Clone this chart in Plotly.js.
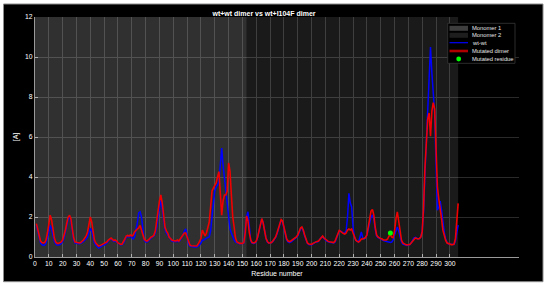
<!DOCTYPE html>
<html><head><meta charset="utf-8">
<script src="https://cdn.plot.ly/plotly-3.0.1.min.js"></script>
<style>html,body{margin:0;padding:0;background:#fff}#chart{width:550px;height:288px}</style>
</head><body><div id="chart"></div>
<script>
// ---- data ----
const wtwt = [
1.6,1.3,0.95,0.7,0.62,0.58,0.6,0.7,0.95,1.35,
1.58,1.4,1.05,0.8,0.65,0.6,0.6,0.62,0.68,0.78,
0.95,1.25,1.6,1.9,2.0,1.8,1.3,0.85,0.7,0.68,
0.68,0.66,0.68,0.72,0.78,0.85,0.9,1.0,1.2,1.43,
1.3,0.95,0.72,0.6,0.52,0.45,0.48,0.55,0.58,0.6,
0.65,0.7,0.8,0.88,0.9,0.82,0.78,0.8,0.75,0.66,
0.62,0.6,0.62,0.7,0.85,1.0,1.02,1.0,1.05,0.95,
0.9,1.0,1.3,1.7,2.2,2.26,2.0,1.3,0.85,0.75,
0.75,0.8,0.9,0.95,1.0,1.05,1.2,1.5,2.0,2.5,
2.85,2.4,1.8,1.4,1.2,1.1,0.95,0.85,0.8,0.78,
0.78,0.78,0.8,0.78,0.85,0.95,1.1,1.3,1.4,1.1,
0.65,0.55,0.52,0.52,0.5,0.5,0.5,0.55,0.6,0.7,
0.84,0.85,0.9,0.95,0.98,1.0,1.3,2.0,2.8,3.3,
3.5,3.6,3.77,4.5,5.45,4.6,3.9,3.5,2.6,1.9,
1.4,1.2,1.0,0.85,0.75,0.7,0.68,0.66,0.66,0.67,
0.7,1.3,2.0,2.26,1.3,0.8,0.7,0.68,0.7,0.78,
0.98,1.3,1.7,1.9,1.72,1.3,0.95,0.75,0.7,0.7,
0.72,0.78,0.88,0.98,1.15,1.4,1.65,1.85,1.75,1.45,
1.05,0.85,0.75,0.72,0.75,0.8,0.85,0.92,0.98,1.05,
1.2,1.4,1.45,1.3,1.05,0.8,0.68,0.62,0.6,0.6,
0.65,0.7,0.75,0.75,0.78,0.88,0.98,1.0,0.9,0.85,
0.8,0.75,0.73,0.72,0.7,0.7,0.75,0.95,1.15,1.3,
1.3,1.25,1.2,1.2,1.3,2.0,3.18,2.7,2.5,1.5,
1.0,0.84,0.78,0.75,1.0,1.25,0.95,0.9,0.97,1.1,
1.4,1.8,2.0,2.1,1.9,1.4,1.05,0.98,0.93,0.9,
0.85,0.82,0.8,0.78,0.75,0.75,0.73,0.75,0.85,1.1,
1.35,1.5,1.3,0.95,0.75,0.65,0.62,0.6,0.58,0.6,
0.62,0.7,0.8,0.95,0.98,0.93,0.9,0.92,1.0,1.3,
2.3,4.2,5.8,7.0,9.0,10.5,9.2,8.0,7.2,4.7,
2.34,2.5,2.8,2.34,1.6,1.2,0.9,0.72,0.65,0.64,
0.63,0.62,0.63,0.8,1.3,1.6
];
const mutatedDimer = [
1.67,1.4,1.05,0.8,0.72,0.7,0.72,0.85,1.2,1.75,
2.09,1.85,1.35,0.95,0.75,0.68,0.68,0.7,0.75,0.85,
1.05,1.35,1.7,2.0,2.09,1.9,1.4,0.95,0.75,0.72,
0.7,0.7,0.72,0.78,0.85,0.95,1.05,1.25,1.6,2.0,
1.75,1.2,0.85,0.7,0.62,0.55,0.57,0.6,0.62,0.65,
0.7,0.75,0.85,0.92,0.95,0.88,0.82,0.85,0.8,0.7,
0.65,0.63,0.65,0.75,0.9,1.05,1.08,1.05,1.1,1.05,
1.1,1.25,1.35,1.4,1.45,1.58,1.35,1.05,0.9,0.82,
0.8,0.85,0.95,1.0,1.02,1.1,1.3,1.7,2.3,2.8,
3.1,2.7,2.0,1.5,1.3,1.2,1.0,0.9,0.85,0.82,
0.82,0.8,0.85,0.8,0.9,1.0,1.1,1.2,1.2,1.0,
0.7,0.6,0.56,0.56,0.55,0.53,0.55,0.65,0.8,0.92,
1.34,1.2,1.05,1.2,1.45,1.75,2.5,3.3,3.45,3.6,
3.7,4.0,4.27,3.2,2.09,2.8,3.1,3.1,3.3,4.7,
4.3,3.1,2.0,1.5,0.95,0.75,0.7,0.68,0.68,0.68,
0.72,1.2,2.05,1.8,1.2,0.85,0.72,0.7,0.72,0.8,
1.0,1.35,1.75,1.92,1.7,1.3,0.95,0.78,0.7,0.7,
0.72,0.8,0.9,1.0,1.2,1.45,1.7,1.87,1.8,1.5,
1.1,0.9,0.8,0.77,0.8,0.85,0.9,0.95,1.0,1.1,
1.25,1.45,1.5,1.35,1.1,0.85,0.7,0.65,0.62,0.63,
0.68,0.72,0.77,0.78,0.8,0.9,1.0,1.05,0.95,0.88,
0.82,0.78,0.76,0.75,0.72,0.72,0.8,1.0,1.2,1.33,
1.28,1.2,1.17,1.15,1.2,1.35,1.4,1.35,1.4,1.2,
0.95,0.84,0.78,0.75,0.8,0.9,0.9,0.95,0.97,1.1,
1.5,2.0,2.3,2.38,2.1,1.5,1.1,1.0,0.95,0.92,
0.9,0.85,0.85,0.85,0.9,1.05,1.1,1.0,0.97,1.3,
1.9,2.26,1.8,1.2,0.85,0.7,0.65,0.62,0.6,0.6,
0.62,0.7,0.8,0.9,0.95,0.92,0.9,0.92,1.0,1.26,
2.5,4.5,6.0,6.9,7.2,6.04,7.3,7.72,7.4,5.5,
3.5,2.9,2.5,1.9,1.33,1.0,0.83,0.7,0.66,0.64,
0.62,0.62,0.64,0.9,1.8,2.68
];
const residues = wtwt.map((_, i) => i + 1);
const mutatedResidueX = [257];
const mutatedResidueY = [1.2];
const monomerNames = ['Monomer 1', 'Monomer 2'];
const monomerStart = [0, 153];
const monomerEnd = [153, 306];
const yTop = 12;
const xTickVals = [0,10,20,30,40,50,60,70,80,90,100,110,120,130,140,150,160,170,180,190,200,210,220,230,240,250,260,270,280,290,300];
const yTickVals = [0,2,4,6,8,10,12];
const legendLabels = ['Monomer 1', 'Monomer 2', 'wt-wt', 'Mutated dimer', 'Mutated residue'];
const titleText = 'wt+wt dimer vs wt+I104F dimer';

// ---- layout geometry ----
const W = 550, H = 288, L = 35, R = 31, T = 17, B = 31;
const pw = W - L - R, ph = H - T - B;
const PX = x => (x - L) / pw;
const PY = y => (H - B - y) / ph;
const FONT = 'Liberation Sans, Arial, Helvetica, sans-serif';
const monoFill = ['rgba(255,255,255,0.19)', 'rgba(255,255,255,0.10)'];

const traces = [];
monomerNames.forEach((n, i) => {
  traces.push({
    type: 'scatter', mode: 'lines', name: n,
    x: [monomerStart[i], monomerEnd[i], monomerEnd[i], monomerStart[i], monomerStart[i]],
    y: [0, 0, yTop, yTop, 0],
    fill: 'toself', fillcolor: monoFill[i], line: {width: 0},
    hoverinfo: 'skip', showlegend: false
  });
});
traces.push({type: 'scatter', mode: 'lines', name: 'wt-wt', x: residues, y: wtwt,
  line: {color: '#0000ff', width: 1.5}, showlegend: false});
traces.push({type: 'scatter', mode: 'lines', name: 'Mutated dimer', x: residues, y: mutatedDimer,
  line: {color: '#f00000', width: 1.6}, showlegend: false});
traces.push({type: 'scatter', mode: 'markers', name: 'Mutated residue', x: mutatedResidueX, y: mutatedResidueY,
  marker: {color: '#00ff00', size: 5}, showlegend: false});

// ---- custom compact legend ----
const shapes = [
  {type: 'rect', xref: 'paper', yref: 'paper', x0: PX(3.5), x1: PX(543), y0: PY(281.7), y1: PY(4),
   fillcolor: '#000', line: {color: '#8c8c8c', width: 1}, layer: 'below'},
  {type: 'rect', xref: 'paper', yref: 'paper', x0: PX(447.7), x1: PX(515), y0: PY(63.3), y1: PY(23.3),
   fillcolor: '#000', line: {color: 'rgb(55,55,55)', width: 0.8}, layer: 'above'}
];
const rowY = [28.3, 35.3, 42.7, 51, 59];
const swX0 = 449.5, swX1 = 468;
shapes.push({type: 'rect', xref: 'paper', yref: 'paper', x0: PX(swX0), x1: PX(swX1), y0: PY(rowY[0] + 2.5), y1: PY(rowY[0] - 2.5),
  fillcolor: 'rgb(62,62,62)', line: {width: 0}, layer: 'above'});
shapes.push({type: 'rect', xref: 'paper', yref: 'paper', x0: PX(swX0), x1: PX(swX1), y0: PY(rowY[1] + 2.5), y1: PY(rowY[1] - 2.5),
  fillcolor: 'rgb(30,30,30)', line: {width: 0}, layer: 'above'});
shapes.push({type: 'line', xref: 'paper', yref: 'paper', x0: PX(swX0), x1: PX(swX1), y0: PY(rowY[2]), y1: PY(rowY[2]),
  line: {color: '#0000ff', width: 1.2}, layer: 'above'});
shapes.push({type: 'line', xref: 'paper', yref: 'paper', x0: PX(swX0), x1: PX(swX1), y0: PY(rowY[3]), y1: PY(rowY[3]),
  line: {color: 'rgb(175,0,0)', width: 2.6}, layer: 'above'});
const cx = 458.7, cr = 2.4;
shapes.push({type: 'circle', xref: 'paper', yref: 'paper', x0: PX(cx - cr), x1: PX(cx + cr), y0: PY(rowY[4] + cr), y1: PY(rowY[4] - cr),
  fillcolor: '#00ff00', line: {width: 0}, layer: 'above'});
const annotations = legendLabels.map((t, i) => ({
  text: t, xref: 'paper', yref: 'paper', x: PX(470), y: PY(rowY[i]), xanchor: 'left', yanchor: 'middle',
  showarrow: false, font: {family: FONT, size: 5.8, color: '#e6e6e6'}
}));

const axisCommon = {
  ticks: 'inside', ticklen: 3, tickwidth: 1, tickcolor: '#b0b0b0',
  showgrid: true, gridcolor: 'rgb(42,42,42)', gridwidth: 1,
  showline: true, linecolor: '#9a9a9a', linewidth: 1, zeroline: false,
  tickfont: {family: FONT, size: 6.8, color: '#ffffff'}, automargin: false, fixedrange: true
};

const layout = {
  width: W, height: H,
  margin: {l: L, r: R, t: T, b: B, pad: 0},
  paper_bgcolor: '#ffffff', plot_bgcolor: '#000000',
  showlegend: false,
  title: {text: titleText, xref: 'container', yref: 'container', x: 264 / W, y: 1 - 13.3 / H,
    xanchor: 'center', yanchor: 'middle', font: {family: FONT, size: 7, color: '#ffffff', weight: 'bold'}},
  xaxis: Object.assign({}, axisCommon, {range: [0, 350], tickvals: xTickVals,
    title: {text: 'Residue number', standoff: 4, font: {family: FONT, size: 7, color: '#ffffff'}}}),
  yaxis: Object.assign({}, axisCommon, {range: [0, 12], tickvals: yTickVals,
    title: {text: '[A]', standoff: 5, font: {family: FONT, size: 7, color: '#ffffff'}}}),
  shapes: shapes, annotations: annotations
};

Plotly.newPlot('chart', traces, layout, {staticPlot: true, displayModeBar: false});
</script>
</body></html>
